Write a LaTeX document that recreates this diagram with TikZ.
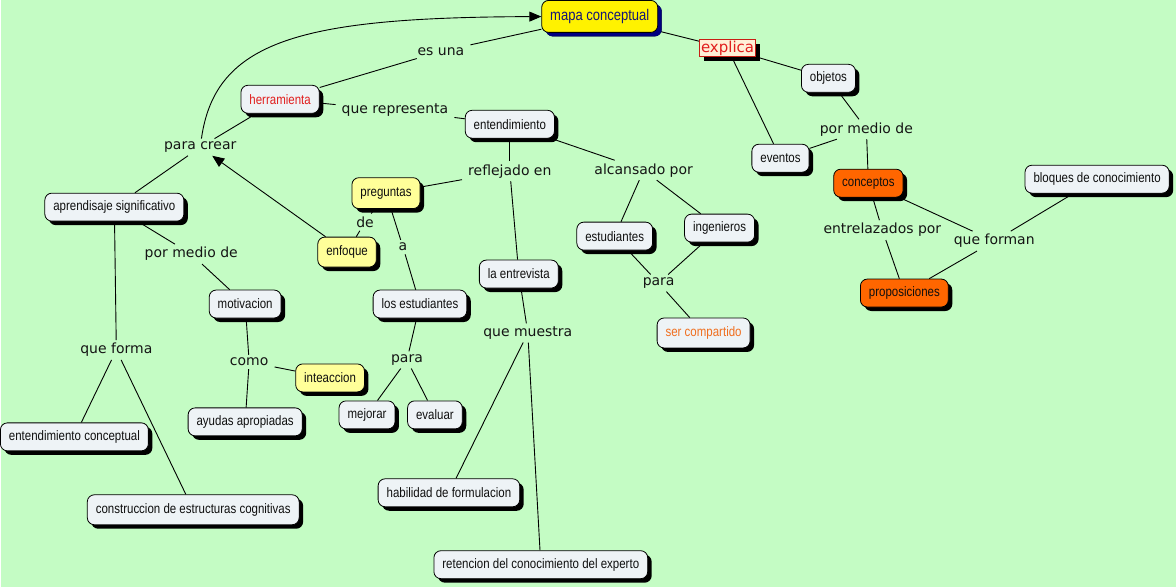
\documentclass[tikz,border=0pt]{standalone}
\usepackage{fontspec}
\newfontfamily\nodefont[FakeStretch=0.84]{Liberation Sans}
\newfontfamily\labfont{DejaVu Sans}
\usetikzlibrary{shadows,arrows.meta}
\definecolor{bgc}{RGB}{196,252,196}
\definecolor{nodefill}{RGB}{238,243,246}
\definecolor{nodetext}{RGB}{15,15,15}
\definecolor{labtext}{RGB}{20,20,20}
\definecolor{orangefill}{RGB}{255,102,0}
\definecolor{paleyellow}{RGB}{255,255,153}
\definecolor{navy}{RGB}{0,0,128}
\definecolor{mapatext}{RGB}{20,20,120}
\definecolor{redtext}{RGB}{225,30,30}
\definecolor{orangetext}{RGB}{240,110,30}
\definecolor{explfill}{RGB}{255,240,215}
\definecolor{explborder}{RGB}{200,30,20}
\pgfdeclarelayer{back}
\pgfsetlayers{back,main}
\begin{document}
\begin{tikzpicture}[x=1pt,y=-1pt,
  concept/.style={draw=black, line width=0.8pt, rounded corners=7pt, fill=nodefill,
    font=\nodefont\fontsize{13.7}{14}\selectfont, text=nodetext, inner xsep=8.5pt,
    minimum height=28pt,
    drop shadow={shadow xshift=4pt,shadow yshift=-4pt,opacity=1,fill=black}},
  hot/.style={fill=orangefill},
  pale/.style={fill=paleyellow},
  lab/.style={font=\labfont\fontsize{14}{15}\selectfont, text=labtext, inner xsep=6pt, inner ysep=3pt},
  conn/.style={draw=black, line width=0.9pt},
  tip/.style={-{Triangle[length=12pt,width=10pt]}}]
\begin{pgfonlayer}{back}
\fill[bgc] (0,0) rectangle (1176,587);
\end{pgfonlayer}
% concepts
\node[concept, fill=yellow, text=mapatext, minimum height=32pt, font=\nodefont\fontsize{15.5}{16}\selectfont,
  drop shadow={shadow xshift=4pt,shadow yshift=-4pt,opacity=1,fill=navy}] (mapa) at (599,16) {mapa conceptual};
\node[draw=explborder, line width=0.8pt, fill=explfill, text=redtext, font=\labfont\fontsize{15}{16}\selectfont,
  inner xsep=1.5pt, inner ysep=0.5pt, minimum height=17pt,
  drop shadow={shadow xshift=4pt,shadow yshift=-4pt,opacity=1,fill=black}] (expl) at (727,48) {explica};
\node[concept, text=redtext] (herr) at (279,99) {herramienta};
\node[concept] (ent) at (509,124) {entendimiento};
\node[concept] (obj) at (828,78) {objetos};
\node[concept] (evt) at (780,158) {eventos};
\node[concept, hot] (conc) at (868,183) {conceptos};
\node[concept] (bloq) at (1097,179) {bloques de conocimiento};
\node[concept, hot] (prop) at (904,293) {proposiciones};
\node[concept, pale, minimum height=31pt] (preg) at (385,193) {preguntas};
\node[concept, pale, minimum height=30pt] (enf) at (346,252) {enfoque};
\node[concept] (apr) at (113,207) {aprendisaje significativo};
\node[concept] (mot) at (244,304) {motivacion};
\node[concept] (lest) at (419,304) {los estudiantes};
\node[concept] (entr) at (518,274) {la entrevista};
\node[concept] (est) at (614,236) {estudiantes};
\node[concept] (ing) at (719,228) {ingenieros};
\node[concept, text=orangetext, minimum height=30pt] (ser) at (703,333) {ser compartido};
\node[concept, pale] (intc) at (329,378) {inteaccion};
\node[concept] (ayu) at (244,422) {ayudas apropiadas};
\node[concept] (mej) at (366,415) {mejorar};
\node[concept] (eva) at (434,415) {evaluar};
\node[concept] (entc) at (73,437) {entendimiento conceptual};
\node[concept, minimum height=30pt] (cons) at (192,510) {construccion de estructuras cognitivas};
\node[concept] (hab) at (448,493) {habilidad de formulacion};
\node[concept] (ret) at (540,565) {retencion del conocimiento del experto};
% link labels
\node[lab] (esuna) at (440,51) {es una};
\node[lab] (querep) at (394,110) {que representa};
\node[lab] (pc) at (199,147) {para crear};
\node[lab] (refl) at (509,171) {reflejado en};
\node[lab] (alc) at (643,170) {alcansado por};
\node[lab] (de) at (364,222) {de};
\node[lab] (la) at (402,247) {a};
\node[lab] (pmdA) at (190,254) {por medio de};
\node[lab] (qf) at (115,350) {que forma};
\node[lab] (como) at (248,362) {como};
\node[lab] (paraA) at (406,360) {para};
\node[lab] (qm) at (527,333) {que muestra};
\node[lab] (paraB) at (658,283) {para};
\node[lab] (pmdB) at (866,129) {por medio de};
\node[lab] (entrel) at (882,230) {entrelazados por};
\node[lab] (qfn) at (994,241) {que forman};
% connectors
\begin{pgfonlayer}{back}
\draw[conn] (herr) -- (esuna);
\draw[conn] (esuna) -- (mapa);
\draw[conn] (herr) -- (querep);
\draw[conn] (querep) -- (ent);
\draw[conn] (herr) -- (pc);
\draw[conn] (pc) -- (apr);
\draw[conn] (ent) -- (refl);
\draw[conn] (refl) -- (preg);
\draw[conn] (refl) -- (entr);
\draw[conn] (ent) -- (alc);
\draw[conn] (alc) -- (est);
\draw[conn] (alc) -- (ing);
\draw[conn] (est) -- (paraB);
\draw[conn] (ing) -- (paraB);
\draw[conn] (paraB) -- (ser);
\draw[conn] (preg) -- (de);
\draw[conn] (de) -- (enf);
\draw[conn] (preg) -- (la);
\draw[conn] (la) -- (lest);
\draw[conn] (lest) -- (paraA);
\draw[conn] (paraA) -- (mej);
\draw[conn] (paraA) -- (eva);
\draw[conn] (entr) -- (qm);
\draw[conn] (qm) -- (hab);
\draw[conn] (qm) -- (ret);
\draw[conn] (apr) -- (pmdA);
\draw[conn] (pmdA) -- (mot);
\draw[conn] (mot) -- (como);
\draw[conn] (como) -- (intc);
\draw[conn] (como) -- (ayu);
\draw[conn] (apr) -- (qf);
\draw[conn] (qf) -- (entc);
\draw[conn] (qf) -- (cons);
\draw[conn] (mapa) -- (expl);
\draw[conn] (expl) -- (obj);
\draw[conn] (expl) -- (evt);
\draw[conn] (obj) -- (pmdB);
\draw[conn] (pmdB) -- (evt);
\draw[conn] (pmdB) -- (conc);
\draw[conn] (conc) -- (entrel);
\draw[conn] (entrel) -- (prop);
\draw[conn] (conc) -- (qfn);
\draw[conn] (bloq) -- (qfn);
\draw[conn] (qfn) -- (prop);
\end{pgfonlayer}
\draw[conn, tip] (enf) -- (pc);
\draw[conn, tip] (pc) .. controls (214,40) and (300,17) .. (mapa);
\end{tikzpicture}
\end{document}
